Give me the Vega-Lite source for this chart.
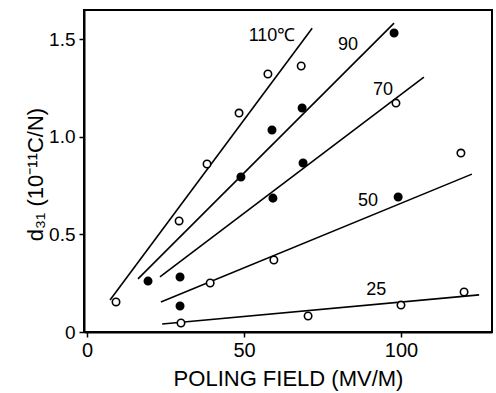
{
  "$schema": "https://vega.github.io/schema/vega-lite/v6.json",
  "width": 408,
  "height": 322,
  "autosize": {"type": "none"},
  "padding": {"left": 84, "top": 10, "right": 4, "bottom": 61},
  "background": "white",
  "config": {
    "view": {"stroke": "black", "strokeWidth": 2},
    "font": "Liberation Sans"
  },
  "datasets": {
    "points": [
      {"field": 9.2, "d31": 0.154, "temp": "110", "marker": "open"},
      {"field": 29.3, "d31": 0.569, "temp": "110", "marker": "open"},
      {"field": 38.2, "d31": 0.861, "temp": "110", "marker": "open"},
      {"field": 48.4, "d31": 1.122, "temp": "110", "marker": "open"},
      {"field": 57.6, "d31": 1.322, "temp": "110", "marker": "open"},
      {"field": 68.2, "d31": 1.363, "temp": "110", "marker": "open"},
      {"field": 19.4, "d31": 0.261, "temp": "90", "marker": "filled"},
      {"field": 49.0, "d31": 0.794, "temp": "90", "marker": "filled"},
      {"field": 58.9, "d31": 1.035, "temp": "90", "marker": "filled"},
      {"field": 68.5, "d31": 1.148, "temp": "90", "marker": "filled"},
      {"field": 97.8, "d31": 1.532, "temp": "90", "marker": "filled"},
      {"field": 29.6, "d31": 0.282, "temp": "70", "marker": "filled"},
      {"field": 59.2, "d31": 0.686, "temp": "70", "marker": "filled"},
      {"field": 68.8, "d31": 0.866, "temp": "70", "marker": "filled"},
      {"field": 98.4, "d31": 1.173, "temp": "70", "marker": "open"},
      {"field": 119.1, "d31": 0.917, "temp": "70", "marker": "open"},
      {"field": 29.6, "d31": 0.133, "temp": "50", "marker": "filled"},
      {"field": 39.2, "d31": 0.251, "temp": "50", "marker": "open"},
      {"field": 59.5, "d31": 0.369, "temp": "50", "marker": "open"},
      {"field": 99.1, "d31": 0.692, "temp": "50", "marker": "filled"},
      {"field": 29.9, "d31": 0.046, "temp": "25", "marker": "open"},
      {"field": 70.4, "d31": 0.082, "temp": "25", "marker": "open"},
      {"field": 100.0, "d31": 0.138, "temp": "25", "marker": "open"},
      {"field": 120.1, "d31": 0.205, "temp": "25", "marker": "open"}
    ],
    "fits": [
      {"field": 7.3, "d31": 0.164, "temp": "110"},
      {"field": 71.7, "d31": 1.557, "temp": "110"},
      {"field": 16.2, "d31": 0.272, "temp": "90"},
      {"field": 97.8, "d31": 1.583, "temp": "90"},
      {"field": 23.2, "d31": 0.282, "temp": "70"},
      {"field": 107.3, "d31": 1.306, "temp": "70"},
      {"field": 23.5, "d31": 0.154, "temp": "50"},
      {"field": 122.6, "d31": 0.809, "temp": "50"},
      {"field": 23.9, "d31": 0.041, "temp": "25"},
      {"field": 124.9, "d31": 0.190, "temp": "25"}
    ],
    "labels": [
      {"field": 58.9, "d31": 1.516, "label": "110℃"},
      {"field": 83.1, "d31": 1.47, "label": "90"},
      {"field": 94.3, "d31": 1.24, "label": "70"},
      {"field": 89.5, "d31": 0.671, "label": "50"},
      {"field": 92.1, "d31": 0.215, "label": "25"}
    ]
  },
  "layer": [
    {
      "data": {"name": "fits"},
      "mark": {"type": "line", "color": "black", "strokeWidth": 1.6},
      "encoding": {
        "x": {
          "field": "field", "type": "quantitative",
          "scale": {"domain": [-1, 129], "nice": false, "zero": false},
          "axis": {
            "title": "POLING FIELD (MV/M)",
            "values": [0, 50, 100],
            "grid": false,
            "domainColor": "black", "domainWidth": 2,
            "tickColor": "black", "tickWidth": 1.5, "tickSize": 5,
            "labelFontSize": 20, "labelColor": "black", "labelPadding": 3,
            "titleFontSize": 22, "titleFontWeight": "normal", "titleColor": "black",
            "titleBaseline": "middle", "titleY": 46
          }
        },
        "y": {
          "field": "d31", "type": "quantitative",
          "scale": {"domain": [0, 1.65], "nice": false, "zero": false},
          "axis": {
            "title": "d₃₁  (10⁻¹¹C/N)",
            "values": [0, 0.5, 1, 1.5],
            "labelExpr": "datum.value == 0 ? '0' : format(datum.value, '.1f')",
            "grid": false,
            "domainColor": "black", "domainWidth": 2,
            "tickColor": "black", "tickWidth": 1.5, "tickSize": 5,
            "labelFontSize": 19, "labelColor": "black", "labelPadding": 4,
            "titleFontSize": 22, "titleFontWeight": "normal", "titleColor": "black",
            "titleAngle": -90, "titleBaseline": "middle", "titleAlign": "center",
            "titleX": -49, "titleY": 164
          }
        },
        "detail": {"field": "temp", "type": "nominal"}
      }
    },
    {
      "data": {"name": "points"},
      "mark": {"type": "circle", "size": 55, "stroke": "black", "strokeWidth": 1.6, "opacity": 1},
      "encoding": {
        "x": {"field": "field", "type": "quantitative", "scale": {"domain": [-1, 129], "nice": false, "zero": false}},
        "y": {"field": "d31", "type": "quantitative", "scale": {"domain": [0, 1.65], "nice": false, "zero": false}},
        "fill": {
          "field": "marker", "type": "nominal",
          "scale": {"domain": ["open", "filled"], "range": ["white", "black"]},
          "legend": null
        }
      }
    },
    {
      "data": {"name": "labels"},
      "mark": {"type": "text", "fontSize": 18, "color": "black", "align": "center", "baseline": "middle"},
      "encoding": {
        "x": {"field": "field", "type": "quantitative", "scale": {"domain": [-1, 129], "nice": false, "zero": false}},
        "y": {"field": "d31", "type": "quantitative", "scale": {"domain": [0, 1.65], "nice": false, "zero": false}},
        "text": {"field": "label", "type": "nominal"}
      }
    }
  ]
}
